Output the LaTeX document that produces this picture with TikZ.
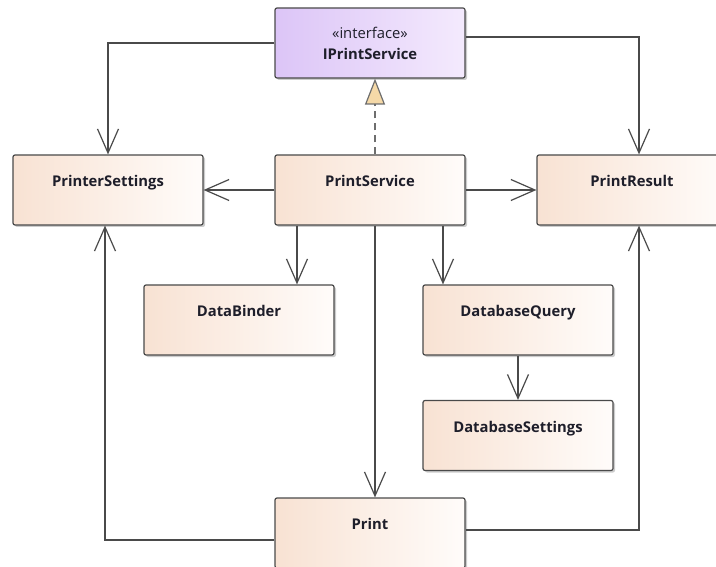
\documentclass[tikz,border=0pt]{standalone}
\usepackage{fontspec}
\setmainfont{Open Sans}
\usetikzlibrary{arrows.meta,shadows}
\definecolor{clsleft}{HTML}{F8E2D3}
\definecolor{clsright}{HTML}{FFFCFA}
\definecolor{ifleft}{HTML}{DCC5F7}
\definecolor{ifright}{HTML}{F4EAFD}
\definecolor{edge}{HTML}{4A4A4A}
\definecolor{tipfill}{HTML}{F5D9A8}
\definecolor{ink}{HTML}{1E1E2A}

\begin{document}
\begin{tikzpicture}[x=1pt, y=-1pt, line width=1.2pt]
\useasboundingbox (0,0) rectangle (716,567);
\clip (0,0) rectangle (716,567);
\tikzstyle{cls} = [rectangle, rounded corners=2pt, draw=edge, left color=clsleft, right color=clsright,
	minimum width=190pt, minimum height=70pt, inner sep=0pt, text height=31.5pt, text depth=38.5pt,
	font=\fontsize{14.8}{17}\selectfont\bfseries, text=ink,
	drop shadow={shadow xshift=2pt, shadow yshift=-2pt, fill=black, opacity=.2}]
\tikzstyle{iface} = [cls, left color=ifleft, right color=ifright, text height=, text depth=,
	align=center, font=\fontsize{14.8}{21}\selectfont]
\tikzstyle{dep} = [draw=edge, -{Straight Barb[length=24pt, width=21pt]}]
\tikzstyle{real} = [draw=edge!80, line width=1.6pt, dash pattern=on 7pt off 5pt,
	-{Triangle[length=26pt, width=20pt, fill=tipfill, line width=1.2pt]}]
% classes
\node[iface] (ips) at (370,43) {«interface»\\\textbf{IPrintService}};
\node[cls] (settings) at (108,190) {PrinterSettings};
\node[cls] (svc) at (370,190) {PrintService};
\node[cls] (result) at (632,190) {PrintResult};
\node[cls] (binder) at (239,320) {DataBinder};
\node[cls] (query) at (518,320) {DatabaseQuery};
\node[cls] (dbset) at (518,435.5) {DatabaseSettings};
\node[cls] (print) at (370,533) {Print};
% realization
\draw[real] ([xshift=5pt]svc.north) -- ([xshift=5pt]svc.north |- ips.south);
% dependencies
\draw[dep] (ips.west) -| (settings.north);
\draw[dep] (ips.east |- 0,37) -| ([xshift=7pt]result.north);
\draw[dep] (svc.west) -- (settings.east);
\draw[dep] (svc.east) -- (result.west);
\draw[dep] ([xshift=-73pt]svc.south) -- ([xshift=-73pt]svc.south |- binder.north);
\draw[dep] ([xshift=73pt]svc.south) -- ([xshift=73pt]svc.south |- query.north);
\draw[dep] (query.south) -- (dbset.north);
\draw[dep] ([xshift=5pt]svc.south) -- ([xshift=5pt]svc.south |- print.north);
\draw[dep] (print.west |- 0,540) -| ([xshift=-3pt]settings.south);
\draw[dep] (print.east |- 0,530) -| ([xshift=7pt]result.south);
\end{tikzpicture}
\end{document}
